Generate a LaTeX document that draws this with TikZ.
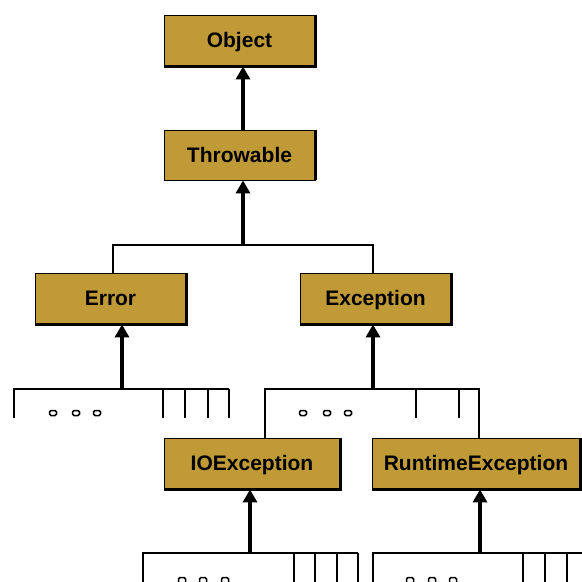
\documentclass[tikz,border=0pt]{standalone}
\usepackage{fontspec}
\setmainfont{Liberation Sans}
\usetikzlibrary{arrows.meta}
\definecolor{boxgold}{HTML}{C09A36}
\begin{document}
\begin{tikzpicture}[x=1pt,y=-1pt,
  cls/.style={fill=boxgold, draw=black, line width=0.9pt, inner sep=0pt,
    minimum height=51pt, text height=14pt, text depth=0pt,
    font=\fontsize{21}{25}\selectfont\bfseries},
  inherit/.style={line width=4pt, -{Triangle[width=14pt,length=13pt]}},
  branch/.style={line width=2.2pt},
  more/.style={line width=1.5pt, rounded corners=1.5pt}]
\useasboundingbox (0,0) rectangle (582,582);
\clip (0,0) rectangle (582,582);

% class boxes
\node[cls, minimum width=151pt] (object)    at (239.5,40.5)  {Object};
\node[cls, minimum width=151pt, minimum height=50pt] (throwable) at (239.5,155) {Throwable};
\node[cls, minimum width=151pt] (error)     at (110.5,298.5) {Error};
\node[cls, minimum width=151pt] (exception) at (375.5,298.5) {Exception};
\node[cls, minimum width=176pt] (ioexc)     at (252,463.5)   {IOException};
\node[cls, minimum width=208pt] (runexc)    at (476,463.5)   {RuntimeException};

% heavier right and bottom edges
\foreach \n in {object,error,exception,ioexc,runexc}
  \draw[line width=2.4pt] (\n.north east) -- (\n.south east) -- (\n.south west);
\draw[line width=2.4pt] (throwable.north east) -- (throwable.south east);

% Throwable -> Object
\draw[inherit] (throwable.north -| 243,0) -- (object.south -| 243,0);

% Error, Exception -> Throwable
\coordinate (jT) at (243,245);
\coordinate (tL) at (113,245);
\coordinate (tR) at (373,245);
\draw[branch] (tL |- error.north) -- (tL) -- (tR) -- (tR |- exception.north);
\draw[inherit] (jT) -- (jT |- throwable.south);

% subclasses of Error
\coordinate (jE) at (122,389);
\draw[inherit] (jE) -- (jE |- error.south);
\draw[branch] (14,418) -- (14,389) -- (229,389);
\foreach \x in {163,185,208,229}
  \draw[branch] (\x,389) -- (\x,418);
\foreach \x in {53,76,97}
  \draw[more] (\x-3.5,410.5) rectangle (\x+3.5,415.5);

% subclasses of Exception
\coordinate (jX) at (373,389);
\coordinate (xL) at (265,389);
\coordinate (xR) at (479,389);
\draw[inherit] (jX) -- (jX |- exception.south);
\draw[branch] (xL |- ioexc.north) -- (xL) -- (xR) -- (xR |- runexc.north);
\foreach \x in {416,459}
  \draw[branch] (\x,389) -- (\x,418);
\foreach \x in {303,327,348}
  \draw[more] (\x-3.5,410.5) rectangle (\x+3.5,415.5);

% subclasses of IOException
\coordinate (jI) at (250,553);
\draw[inherit] (jI) -- (jI |- ioexc.south);
\draw[branch] (143,590) -- (143,553) -- (358,553);
\foreach \x in {294,315,337,358}
  \draw[branch] (\x,553) -- (\x,590);
\foreach \x in {182,203,225}
  \draw[more] (\x-3.5,577.5) rectangle (\x+3.5,584);

% subclasses of RuntimeException
\coordinate (jR) at (480,553);
\draw[inherit] (jR) -- (jR |- runexc.south);
\draw[branch] (373,590) -- (373,553) -- (590,553);
\foreach \x in {523,545,567}
  \draw[branch] (\x,553) -- (\x,590);
\foreach \x in {410,432,453}
  \draw[more] (\x-3.5,577.5) rectangle (\x+3.5,584);
\end{tikzpicture}
\end{document}
